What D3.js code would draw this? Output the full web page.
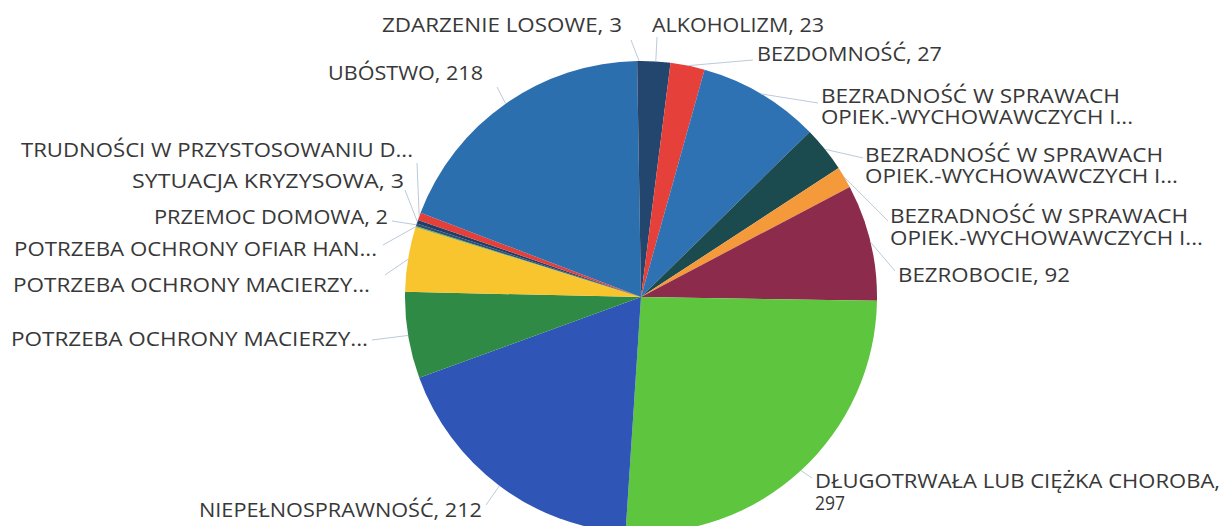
<!DOCTYPE html>
<html>
<head>
<meta charset="utf-8">
<script src="https://cdn.jsdelivr.net/npm/d3@7"></script>
<style>
  body { margin: 0; background: #fff; }
  text { font-family: "Open Sans", sans-serif; font-size: 20px; fill: #383838; }
</style>
</head>
<body>
<script>
// categories and values, clockwise from 12 o'clock
var categories = [
  "ALKOHOLIZM", "BEZDOMNOŚĆ",
  "BEZRADNOŚĆ W SPRAWACH|OPIEK.-WYCHOWAWCZYCH I...",
  "BEZRADNOŚĆ W SPRAWACH|OPIEK.-WYCHOWAWCZYCH I...",
  "BEZRADNOŚĆ W SPRAWACH|OPIEK.-WYCHOWAWCZYCH I...",
  "BEZROBOCIE", "DŁUGOTRWAŁA LUB CIĘŻKA CHOROBA,", "NIEPEŁNOSPRAWNOŚĆ",
  "POTRZEBA OCHRONY MACIERZY...", "POTRZEBA OCHRONY MACIERZY...",
  "POTRZEBA OCHRONY OFIAR HAN...", "PRZEMOC DOMOWA", "SYTUACJA KRYZYSOWA",
  "TRUDNOŚCI W PRZYSTOSOWANIU D...", "UBÓSTWO", "ZDARZENIE LOSOWE"
]
var values = [23, 27, 96, 36, 17, 92, 297, 212, 68, 51, 1, 2, 3, 6, 218, 3]
// which labels show the value
var showValue = [true, true, false, false, false, true, true, true, false, false, false, true, true, false, true, true]
var colors = ["#22466e", "#e6403a", "#2e72b3", "#1c4b4f", "#f49a3b", "#8c2b4b", "#5dc53e", "#2f55b7",
  "#2f8a45", "#f8c52e", "#7fb24a", "#2a4f7a", "#1f3f66", "#e53f3a", "#2c6fae", "#27456b"]

// label layout: [x, first baseline, anchor, line gap, widths of the lines]
var labelPos = [
  [652, 32, "start", 0, [172]], [757, 61, "start", 0, [185]],
  [821, 103, "start", 21, [299, 312]], [865, 162, "start", 21, [298, 313]],
  [890, 223, "start", 22, [298, 313]], [898, 282, "start", 0, [172]],
  [815, 488, "start", 22, [405, 30]], [482, 517, "end", 0, [283]],
  [368, 346, "end", 0, [357]], [370, 292, "end", 0, [357]],
  [377, 256, "end", 0, [363]], [388, 224, "end", 0, [234]],
  [404, 188, "end", 0, [272]], [413, 157, "end", 0, [392]],
  [483, 80, "end", 0, [155]], [622, 32, "end", 0, [240]]
]
// where each leader line meets its label
var leaderEnd = [
  [657, 37], [753, 60], [818, 103], [863, 158], [888, 221], [895, 271], [812, 478], [486, 505],
  [372, 340], [385, 275], [383, 245], [392, 221], [405, 190], [417, 163], [497, 87], [631, 40]
]

var width = 1227, height = 526, cx = 641, cy = 297, radius = 236

var svg = d3.select("body").append("svg")
  .attr("width", width)
  .attr("height", height)

var pie = d3.pie().sort(null).value(function(d){ return d })
var arcs = pie(values)
var arc = d3.arc().innerRadius(0).outerRadius(radius)

var g = svg.append("g").attr("transform", "translate(" + cx + "," + cy + ")")

g.selectAll("path")
  .data(arcs)
  .enter()
  .append("path")
  .attr("d", arc)
  .attr("fill", function(d, i){ return colors[i] })

// leader lines
svg.selectAll("line.leader")
  .data(arcs)
  .enter()
  .append("line")
  .attr("class", "leader")
  .attr("x1", function(d){ return cx + radius * Math.sin((d.startAngle + d.endAngle) / 2) })
  .attr("y1", function(d){ return cy - radius * Math.cos((d.startAngle + d.endAngle) / 2) })
  .attr("x2", function(d, i){ return leaderEnd[i][0] })
  .attr("y2", function(d, i){ return leaderEnd[i][1] })
  .attr("stroke", "#bccadb")
  .attr("stroke-width", 1)

// labels
var labels = svg.selectAll("text.lbl")
  .data(arcs)
  .enter()
  .append("text")
  .attr("class", "lbl")
  .attr("x", function(d, i){ return labelPos[i][0] })
  .attr("y", function(d, i){ return labelPos[i][1] })
  .attr("text-anchor", function(d, i){ return labelPos[i][2] })

labels.each(function(d, i){
  var lines = categories[i].split("|")
  if (showValue[i]) {
    if (i == 6) lines.push(String(values[i]))
    else lines[lines.length - 1] += ", " + values[i]
  }
  var t = d3.select(this)
  var p = labelPos[i]
  lines.forEach(function(s, k){
    t.append("tspan")
      .attr("x", p[0])
      .attr("dy", k == 0 ? 0 : p[3])
      .attr("textLength", p[4][k])
      .attr("lengthAdjust", "spacingAndGlyphs")
      .text(s)
  })
})
</script>
</body>
</html>
